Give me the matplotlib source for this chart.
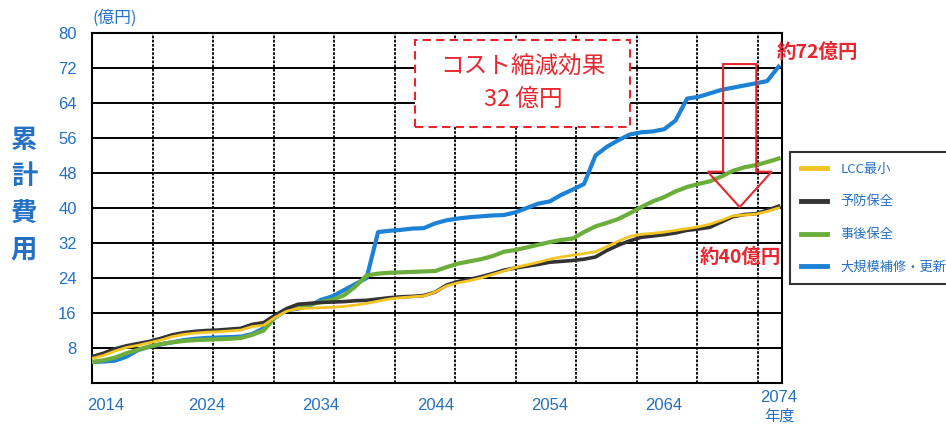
import numpy as np
import matplotlib
matplotlib.use("Agg")
import matplotlib.pyplot as plt
from matplotlib.patches import Rectangle, FancyArrow
from matplotlib.lines import Line2D
import matplotlib.transforms as mtransforms

plt.rcParams['font.family'] = ['Noto Sans CJK JP', 'DejaVu Sans']

# =========================
# DATOS (億円, acumulado)
# =========================
anios = list(range(2014, 2075))

lcc_minimo = [5.6, 6.3, 7.3, 8.1, 8.6, 9.2, 9.8, 10.6, 11.1, 11.4,
              11.6, 11.7, 11.9, 12.1, 12.9, 13.2, 15.0, 16.4, 17.0, 17.1,
              17.2, 17.3, 17.5, 17.8, 18.2, 18.7, 19.2, 19.5, 19.7, 19.9,
              20.8, 22.2, 22.9, 23.4, 24.0, 24.8, 25.6, 26.4, 27.0, 27.6,
              28.3, 28.8, 29.2, 29.6, 30.0, 31.2, 32.4, 33.5, 34.0, 34.2,
              34.5, 34.9, 35.3, 35.7, 36.3, 37.2, 38.2, 38.4, 38.6, 39.2,
              40.0]

preventivo = [6.0, 6.8, 7.8, 8.5, 9.0, 9.5, 10.2, 11.0, 11.5, 11.8,
              12.0, 12.1, 12.3, 12.5, 13.4, 13.8, 15.5, 17.0, 18.0, 18.2,
              18.4, 18.5, 18.6, 18.8, 18.9, 19.2, 19.5, 19.7, 19.8, 20.0,
              20.8, 22.4, 23.2, 23.7, 24.3, 25.0, 25.8, 26.3, 26.7, 27.1,
              27.6, 27.8, 28.0, 28.3, 28.8, 30.3, 31.5, 32.5, 33.3, 33.6,
              33.9, 34.3, 34.9, 35.2, 35.6, 36.8, 38.0, 38.5, 38.7, 39.5,
              40.4]

correctivo = [4.8, 5.2, 5.8, 6.8, 7.6, 8.3, 8.9, 9.3, 9.6, 9.8,
              9.9, 10.0, 10.1, 10.3, 11.0, 12.0, 15.0, 16.8, 17.6, 18.0,
              18.5, 19.0, 20.0, 22.0, 24.6, 25.0, 25.2, 25.3, 25.4, 25.5,
              25.6, 26.5, 27.3, 27.8, 28.3, 29.0, 30.0, 30.4, 31.0, 31.6,
              32.2, 32.7, 33.0, 34.5, 35.8, 36.6, 37.5, 38.8, 40.2, 41.5,
              42.5, 43.8, 44.8, 45.5, 46.1, 47.2, 48.5, 49.3, 49.8, 50.5,
              51.3]

gran_reparacion = [4.8, 4.9, 5.1, 6.0, 7.5, 8.3, 8.8, 9.3, 9.8, 10.1,
                   10.3, 10.4, 10.5, 10.6, 11.2, 12.5, 15.0, 16.6, 17.0, 17.6,
                   19.0, 19.8, 21.2, 22.6, 24.0, 34.5, 34.8, 35.0, 35.3, 35.4,
                   36.5, 37.2, 37.6, 37.9, 38.1, 38.3, 38.4, 39.0, 40.0, 41.0,
                   41.5, 43.0, 44.2, 45.5, 52.0, 54.0, 55.5, 56.8, 57.3, 57.5,
                   58.0, 60.0, 65.0, 65.4, 66.2, 67.0, 67.5, 68.0, 68.5, 69.0,
                   72.3]

etiquetas_x = ["2014", "2024", "2034", "2044", "2054", "2064", "2074"]
ticks_y = [8, 16, 24, 32, 40, 48, 56, 64, 72, 80]

azul_texto = "#2470c4"
rojo = "#e8262f"

# =========================
# FIGURA
# =========================
fig = plt.figure(figsize=(9.46, 4.25), dpi=100)
ax = fig.add_axes([92 / 946, 42 / 425, 690 / 946, 350 / 425])

ax.set_xlim(2014, 2074.3)
ax.set_ylim(0, 80)

# rejilla
for v in ticks_y[:-1]:
    ax.axhline(v, color="black", lw=1.4, zorder=1)
for k in range(1, 12):
    ax.axvline(2014 + 5.29 * k, color="black", lw=1.3, ls=(0, (1.5, 0.8)), zorder=1)

for s in ax.spines.values():
    s.set_linewidth(1.5)

# curvas
ax.plot(anios, gran_reparacion, color="#1d82d6", lw=3.0, zorder=3)
ax.plot(anios, correctivo, color="#6cae3c", lw=3.0, zorder=4)
ax.plot(anios, preventivo, color="#333333", lw=2.6, zorder=5)
ax.plot(anios, lcc_minimo, color="#f4c424", lw=2.0, zorder=6)

# ejes
ax.set_xticks([int(t) for t in etiquetas_x])
ax.set_xticklabels(etiquetas_x)
ax.set_yticks(ticks_y)
ax.set_yticklabels([str(t) for t in ticks_y])
ax.tick_params(length=0, colors=azul_texto, labelsize=12)
ax.tick_params(axis="y", pad=11)
ax.tick_params(axis="x", pad=11)
for lab in ax.get_xticklabels() + ax.get_yticklabels():
    lab.set_fontfamily(["Liberation Sans", "DejaVu Sans"])
primera = ax.get_xticklabels()[0]
primera.set_transform(primera.get_transform()
                      + mtransforms.ScaledTranslation(10 / 72, 0, fig.dpi_scale_trans))
ultima = ax.get_xticklabels()[-1]
ultima.set_transform(ultima.get_transform()
                     + mtransforms.ScaledTranslation(0, 6 / 72, fig.dpi_scale_trans))

ax.text(0.0, 1.017, "(億円)", transform=ax.transAxes, color=azul_texto,
        fontsize=12, ha="left", va="bottom")
ax.text(0.996, -0.094, "年度", transform=ax.transAxes, color=azul_texto,
        fontsize=11, ha="center", va="center", clip_on=False)
fig.text(24 / 946, 1 - 195 / 425, "累\n計\n費\n用", color=azul_texto,
         fontsize=19, fontweight="bold", ha="center", va="center", linespacing=1.45)

# recuadro del efecto
ax.add_patch(Rectangle((0.468, 0.731), 0.3116, 0.249, transform=ax.transAxes,
                       facecolor="white", edgecolor=rojo, lw=1.5, ls=(0, (4, 2.5)), zorder=7))
ax.text(0.6246, 0.903, "コスト縮減効果", transform=ax.transAxes, color=rojo,
        fontsize=17, ha="center", va="center", zorder=8)
ax.text(0.6246, 0.807, "32 億円", transform=ax.transAxes, color=rojo,
        fontsize=17, ha="center", va="center", zorder=8)

# flecha de reducción
ax.add_patch(FancyArrow(2070.6, 72.9, 0, -32.7, width=2.9, head_width=5.6,
                        head_length=8.1, length_includes_head=True, fill=False,
                        edgecolor=rojo, lw=1.5, zorder=7))

ax.text(0.993, 0.943, "約72億円", transform=ax.transAxes, color=rojo,
        fontsize=14, fontweight="bold", ha="left", va="center", clip_on=False)
ax.text(0.94, 0.36, "約40億円", transform=ax.transAxes, color=rojo,
        fontsize=14, fontweight="bold", ha="center", va="center", zorder=8)

# leyenda
handles = [Line2D([], [], color="#f4c424", lw=3.5),
           Line2D([], [], color="#333333", lw=3.5),
           Line2D([], [], color="#6cae3c", lw=3.5),
           Line2D([], [], color="#1d82d6", lw=3.5)]
nombres = ["LCC最小", "予防保全", "事後保全", "大規模補修・更新"]
leg = fig.legend(handles, nombres, loc="upper left",
                 bbox_to_anchor=(790 / 946, 1 - 152 / 425),
                 frameon=True, fancybox=False, edgecolor="black",
                 fontsize=9.5, labelspacing=1.5, handlelength=2.0,
                 handletextpad=1.0, borderpad=0.8, borderaxespad=0)
leg.get_frame().set_linewidth(1.5)
for t in leg.get_texts():
    t.set_color(azul_texto)

fig.savefig("out.png", dpi=100)
